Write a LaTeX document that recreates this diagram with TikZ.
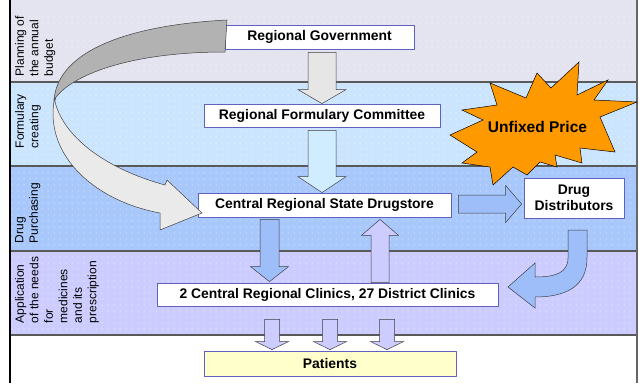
\documentclass[tikz,border=0pt]{standalone}
\usepackage{fontspec}
\setmainfont{Liberation Sans}
\usetikzlibrary{calc,patterns.meta}

\definecolor{bandA}{RGB}{228,228,240}
\definecolor{bandB}{RGB}{204,229,255}
\definecolor{bandC}{RGB}{168,200,252}
\definecolor{bandD}{RGB}{204,204,255}
\definecolor{boxline}{RGB}{96,96,192}
\definecolor{arrblue}{RGB}{158,190,250}
\definecolor{arrlav}{RGB}{204,204,255}
\definecolor{arrcyan}{RGB}{208,236,255}
\definecolor{arrgray}{RGB}{230,230,230}
\definecolor{ribdark}{RGB}{178,178,178}
\definecolor{riblight}{RGB}{234,234,234}
\definecolor{starorange}{RGB}{255,153,0}
\definecolor{patyellow}{RGB}{255,255,204}

\tikzset{
  stage/.style={draw=boxline, fill=white, line width=0.8pt, inner sep=0pt,
    font=\fontsize{13.9}{16}\selectfont\bfseries, align=center},
  bandlabel/.style={rotate=90, anchor=north, align=left, inner sep=1pt,
    font=\fontsize{12}{14.5}\selectfont},
  fat/.style={draw=black!75, line width=0.5pt, line join=miter},
  bandline/.style={draw=black!65, line width=1.2pt},
  dotfill/.style={pattern={Dots[distance=6pt,radius=0.5pt]}, pattern color=white}
}

% block arrow: [style]{from}{tip}{shaft half}{head half}{head length}
\newcommand{\fatarrow}[6][]{%
  \coordinate (fah) at ($(#3)!#6!(#2)$);
  \draw[fat,#1] ($(#2)!#4!90:(#3)$) -- ($(fah)!#4!90:(#3)$) -- ($(fah)!#5!90:(#3)$) -- (#3)
    -- ($(fah)!#5!-90:(#3)$) -- ($(fah)!#4!-90:(#3)$) -- ($(#2)!#4!-90:(#3)$) -- cycle;
}

\begin{document}
\begin{tikzpicture}[x=1pt,y=-1pt,line join=round]
    \useasboundingbox (0,0) rectangle (639,383);
    % bands
    \fill[bandA] (10,0) rectangle (637,82);
    \fill[bandB] (10,82) rectangle (637,166);
    \fill[bandC] (10,166) rectangle (637,251);
    \fill[bandD] (10,251) rectangle (637,335);
    \fill[dotfill] (10,0) rectangle (637,335);
    \foreach \y in {82,166,251,335}
        \draw[bandline] (10,\y) -- (637,\y);
    \draw[black!60, line width=1.2pt] (637,0) -- (637,383);
    \draw[black, line width=2pt] (10,0) -- (10,383);

    \node[bandlabel] (lplan) at (14,46) {Planning of\\the annual\\budget};
    \node[bandlabel] (lform) at (14,121) {Formulary\\creating};
    \node[bandlabel] (lbuy) at (14,213) {Drug\\Purchasing};
    \node[bandlabel] (lneed) at (14,290) {Application\\of the needs\\for\\medicines\\and its\\prescription};

    % stages
    \node[stage, minimum width=189pt, minimum height=24pt] (rg) at (319.5,37) {Regional Government};
    \node[stage, minimum width=236pt, minimum height=23pt] (rfc) at (322,115.5) {Regional Formulary Committee};
    \node[stage, minimum width=253pt, minimum height=24pt] (crsd) at (324.5,205) {Central Regional State Drugstore};
    \node[stage, minimum width=100pt, minimum height=40pt] (dd) at (574,198) {Drug\\Distributors};
    \node[stage, minimum width=341pt, minimum height=23pt] (clin) at (327.5,294.5) {2 Central Regional Clinics, 27 District Clinics};
    \node[stage, fill=patyellow, minimum width=252pt, minimum height=25pt] (pat) at (330,363.5) {Patients};

    % star
    \filldraw[fill=starorange, draw=black, line width=0.5pt, line join=miter]
        (490,83) -- (526,98) -- (537,73) -- (551,88) -- (579,62) -- (577,95) -- (608,80)
        -- (594,100) -- (637,102) -- (600,117) -- (615,152) -- (580,148) -- (582,163)
        -- (555,155) -- (557,167) -- (540,162) -- (527,175) -- (513,167) -- (493,185)
        -- (490,167) -- (462,163) -- (477,152) -- (450,135) -- (483,120) -- (462,110)
        -- (497,105) -- cycle;
    \node[font=\fontsize{15.5}{18}\selectfont\bfseries] (price) at (537.5,127) {Unfixed Price};

    % budget ribbon
    \filldraw[fat, fill=riblight] (56,92) .. controls (40,150) and (90,200) .. (160,213)
        -- (160,230) -- (202,213) -- (167,180) -- (165,185)
        .. controls (110,170) and (65,140) .. (55,102) -- cycle;
    \filldraw[fat, fill=ribdark] (227,20) .. controls (130,25) and (58,50) .. (54,100)
        .. controls (70,75) and (130,52) .. (225,52) -- cycle;

    % block arrows
    \coordinate (g1) at ($(rg.south)+(2.5,3)$);
    \coordinate (g2) at (g1 |- rfc.north);
    \fatarrow[fill=arrgray]{g1}{g2}{14pt}{24pt}{14pt}
    \coordinate (f1) at ($(rfc.south)+(0,3)$);
    \coordinate (f2) at (f1 |- crsd.north);
    \fatarrow[fill=arrcyan]{f1}{f2}{14pt}{24pt}{16pt}
    \coordinate (d1) at ($(crsd.south)+(-55,2)$);
    \coordinate (d2) at ($(d1 |- clin.north)+(0,-1)$);
    \fatarrow[fill=arrblue]{d1}{d2}{9.5pt}{19pt}{15pt}
    \coordinate (u1) at ($(clin.north)+(52.5,0)$);
    \coordinate (u2) at ($(u1 |- crsd.south)+(0,2)$);
    \fatarrow[fill=arrlav]{u1}{u2}{9pt}{18.5pt}{16pt}
    \coordinate (r1) at ($(crsd.east)+(7,-1)$);
    \coordinate (r2) at ($(dd.west |- r1)+(-2,0)$);
    \fatarrow[fill=arrblue]{r1}{r2}{9pt}{18.5pt}{16pt}
    \foreach \dx [count=\i] in {-58,0,57} {
        \coordinate (pt\i) at ($(pat.north)+(\dx,-1)$);
        \coordinate (pc\i) at ($(pt\i |- clin.south)+(0,13)$);
        \fatarrow[fill=arrlav]{pc\i}{pt\i}{7.5pt}{16.5pt}{8pt}
    }

    % back from distributors
    \filldraw[fat, fill=arrblue] (568,230) -- (587,230) -- (587,258)
        .. controls (587,287) and (565,297) .. (535,297) -- (535,308) -- (508,287)
        -- (535,263) -- (535,277) .. controls (555,277) and (568,273) .. (568,258) -- cycle;
\end{tikzpicture}
\end{document}
